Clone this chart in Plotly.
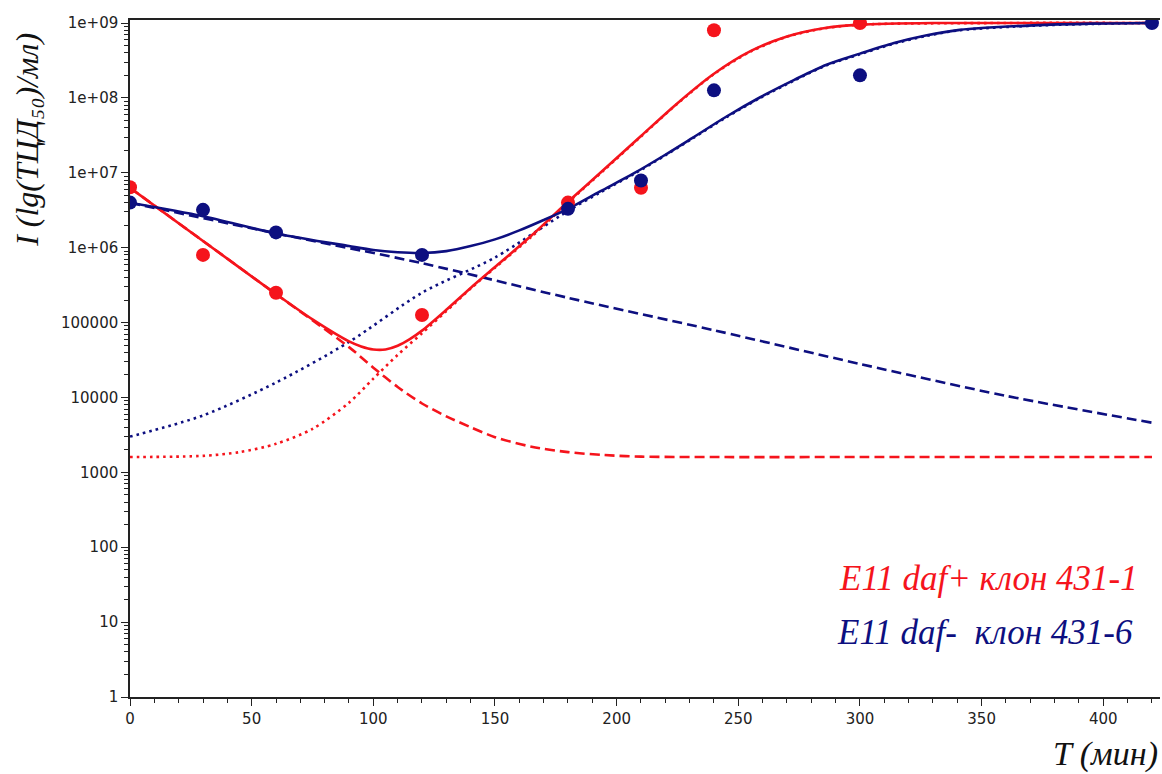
import plotly.graph_objects as go

# ---------------- data ----------------
t_red_obs = [0, 30, 60, 120, 180, 210, 240, 300]
red_obs = [6.4e6, 8.0e5, 2.5e5, 1.26e5, 4.0e6, 6.3e6, 8.0e8, 1.0e9]

t_blue_obs = [0, 30, 60, 120, 180, 210, 240, 300, 420]
blue_obs = [4.0e6, 3.2e6, 1.6e6, 8.0e5, 3.3e6, 7.9e6, 1.26e8, 2.0e8, 1.0e9]

# red fitted curve (solid), decay part (dashed), growth part (dotted)
t_red_fit = [0, 30, 60, 75, 90, 95, 100, 105, 110, 115, 120, 130, 140, 150,
             165, 180, 195, 210, 225, 240, 255, 270, 285, 300, 330, 360, 420]
red_fit = [6.3e6, 1.23e6, 2.4e5, 1.1e5, 5.6e4, 4.8e4, 4.37e4, 4.37e4, 4.9e4,
           6.0e4, 7.8e4, 1.48e5, 2.9e5, 5.5e5, 1.45e6, 4.1e6, 1.12e7, 3.1e7,
           8.5e7, 2.1e8, 4.2e8, 6.6e8, 8.5e8, 9.5e8, 1.0e9, 1.0e9, 1.0e9]

t_red_decay = [0, 30, 60, 90, 100, 110, 120, 130, 140, 150, 165, 180, 195,
               210, 240, 300, 360, 420]
red_decay = [6.3e6, 1.23e6, 2.4e5, 4.7e4, 2.5e4, 1.38e4, 8.3e3, 5.6e3, 4.0e3,
             2.95e3, 2.2e3, 1.86e3, 1.7e3, 1.62e3, 1.6e3, 1.6e3, 1.6e3, 1.6e3]

t_red_growth = [0, 30, 45, 60, 75, 90, 100, 110, 120, 130, 140, 150, 165,
                180, 195, 210, 225, 240, 255, 270, 285, 300, 360, 420]
red_growth = [1.6e3, 1.66e3, 1.86e3, 2.4e3, 3.8e3, 8.5e3, 1.78e4, 3.7e4,
              7.2e4, 1.42e5, 2.85e5, 5.4e5, 1.4e6, 4.0e6, 1.1e7, 3.05e7,
              8.4e7, 2.08e8, 4.15e8, 6.55e8, 8.45e8, 9.5e8, 1.0e9, 1.0e9]

# blue fitted curve (solid), decay part (dashed), growth part (dotted)
t_blue_fit = [0, 30, 60, 90, 100, 110, 120, 130, 140, 150, 160, 170, 180,
              193, 207, 220, 231, 245, 259, 273, 286, 300, 314, 327, 341,
              371, 395, 420]
blue_fit = [3.98e6, 2.63e6, 1.55e6, 1.05e6, 9.3e5, 8.7e5, 8.5e5, 9.0e5,
            1.05e6, 1.29e6, 1.7e6, 2.34e6, 3.3e6, 5.6e6, 9.8e6, 1.74e7,
            2.9e7, 5.6e7, 1.02e8, 1.74e8, 2.75e8, 3.9e8, 5.4e8, 6.8e8,
            8.1e8, 9.3e8, 9.8e8, 1.0e9]

t_blue_decay = [0, 60, 120, 180, 240, 300, 360, 420]
blue_decay = [3.98e6, 1.55e6, 6.2e5, 2.14e5, 7.9e4, 2.8e4, 1.05e4, 4.6e3]

t_blue_growth = [0, 30, 60, 90, 120, 150, 180, 193, 207, 220, 231, 245, 259,
                 273, 286, 300, 314, 327, 341, 371, 395, 420]
blue_growth = [3.0e3, 5.75e3, 1.58e4, 5.5e4, 2.5e5, 7.4e5, 3.1e6, 5.4e6,
               9.6e6, 1.71e7, 2.85e7, 5.5e7, 1.0e8, 1.71e8, 2.7e8, 3.83e8,
               5.3e8, 6.7e8, 8.0e8, 9.2e8, 9.7e8, 1.0e9]

y_tickvals = [1, 10, 100, 1000, 10000, 100000, 1e6, 1e7, 1e8, 1e9]
y_ticktext = ["1", "10", "100", "1000", "10000", "100000",
              "1e+06", "1e+07", "1e+08", "1e+09"]
x_tickvals = [0, 50, 100, 150, 200, 250, 300, 350, 400]

legend_red = "E11 daf+ клон 431-1"
legend_blue = "E11 daf-  клон 431-6"
y_title = "I (lg(ТЦД₅₀)/мл)"
x_title = "T (мин)"

RED = "#f5141c"
BLUE = "#0d0f80"

fig = go.Figure()

def curve(t, y, color, dash):
    fig.add_trace(go.Scatter(x=t, y=y, mode="lines",
                             line=dict(color=color, width=2.6, dash=dash,
                                       shape="spline", smoothing=0.8),
                             showlegend=False, hoverinfo="skip"))

curve(t_red_decay, red_decay, RED, "10px,5px")
curve(t_red_growth, red_growth, RED, "2.6px,4px")
curve(t_blue_decay, blue_decay, BLUE, "10px,5px")
curve(t_blue_growth, blue_growth, BLUE, "2.6px,4px")
curve(t_red_fit, red_fit, RED, "solid")
curve(t_blue_fit, blue_fit, BLUE, "solid")

fig.add_trace(go.Scatter(x=t_red_obs, y=red_obs, mode="markers",
                         marker=dict(color=RED, size=14), showlegend=False))
fig.add_trace(go.Scatter(x=t_blue_obs, y=blue_obs, mode="markers",
                         marker=dict(color=BLUE, size=14), showlegend=False))

serif = "Liberation Serif"
tickfont = dict(family="DejaVu Sans", size=15, color="#222")

minor_y = [k * 10 ** d for d in range(9) for k in range(2, 10)]

fig.update_layout(
    width=1162, height=774,
    margin=dict(l=130, r=2, t=20, b=77),
    paper_bgcolor="white", plot_bgcolor="white",
    xaxis=dict(range=[0, 423.3], tickvals=x_tickvals, ticks="outside",
               ticklen=7, tickwidth=1.3, tickcolor="#222",
               showline=True, linecolor="#222", linewidth=1.5, mirror=True,
               showgrid=False, zeroline=False, tickfont=tickfont,
               minor=dict(dtick=10, ticks="outside", ticklen=4,
                          tickcolor="#222", showgrid=False)),
    yaxis=dict(type="log", range=[0, 9.04], tickvals=y_tickvals,
               ticktext=y_ticktext, ticks="outside", ticklen=7,
               tickwidth=1.3, tickcolor="#222",
               showline=True, linecolor="#222", linewidth=1.5,
               showgrid=False, zeroline=False, tickfont=tickfont,
               minor=dict(tickvals=minor_y, ticks="outside", ticklen=4,
                          tickcolor="#222", showgrid=False)),
    annotations=[
        dict(text="<i>" + y_title + "</i>", xref="paper", yref="paper",
             x=0, y=0.823, xanchor="center", yanchor="middle", xshift=-103,
             textangle=-90, showarrow=False,
             font=dict(family=serif, size=32, color="#111")),
        dict(text="<i>" + x_title + "</i>", xref="paper", yref="paper",
             x=1, y=0, xanchor="right", yanchor="middle", yshift=-57,
             showarrow=False, font=dict(family=serif, size=34, color="#111")),
        dict(text="<i>" + legend_red + "</i>", xref="paper", yref="paper",
             x=1, y=0, xanchor="right", yanchor="middle", xshift=-20,
             yshift=697 - 578, showarrow=False,
             font=dict(family=serif, size=35, color=RED)),
        dict(text="<i>" + legend_blue + "</i>", xref="paper", yref="paper",
             x=1, y=0, xanchor="right", yanchor="middle", xshift=-25,
             yshift=697 - 632, showarrow=False,
             font=dict(family=serif, size=35, color=BLUE)),
    ],
)

fig.write_html("out.html")
